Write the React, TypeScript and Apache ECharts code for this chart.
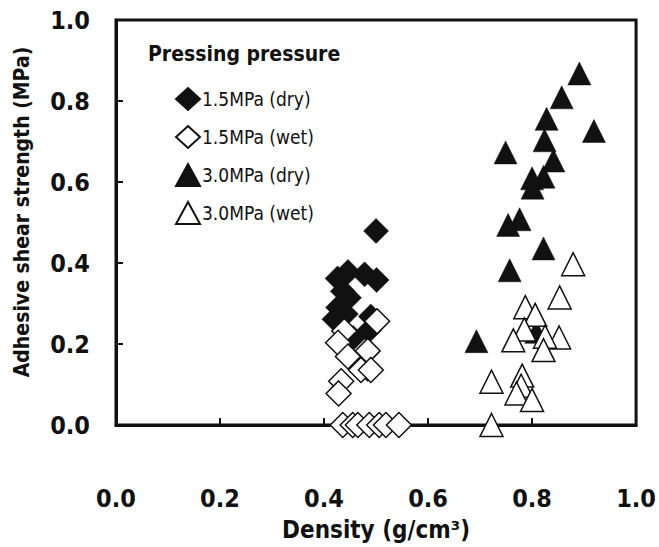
import React, { useEffect, useRef } from "react";
import * as echarts from "echarts";

const seriesNames = ["1.5MPa (dry)", "1.5MPa (wet)", "3.0MPa (dry)", "3.0MPa (wet)"];

const dry15: number[][] = [
  [0.5, 0.479], [0.446, 0.378], [0.478, 0.372], [0.501, 0.358], [0.426, 0.362],
  [0.436, 0.33], [0.448, 0.314], [0.427, 0.29], [0.442, 0.274], [0.42, 0.261],
  [0.49, 0.268], [0.486, 0.233], [0.456, 0.215], [0.484, 0.138],
];
const wet15: number[][] = [
  [0.502, 0.256], [0.439, 0.232], [0.427, 0.203], [0.446, 0.169], [0.484, 0.183],
  [0.471, 0.136], [0.49, 0.136], [0.433, 0.108], [0.428, 0.078],
  [0.436, 0], [0.455, 0], [0.465, 0], [0.487, 0], [0.506, 0], [0.519, 0], [0.544, 0],
];
const dry30: number[][] = [
  [0.891, 0.868], [0.857, 0.809], [0.828, 0.756], [0.919, 0.726], [0.824, 0.703],
  [0.749, 0.673], [0.841, 0.653], [0.822, 0.613], [0.8, 0.609], [0.801, 0.586],
  [0.776, 0.508], [0.754, 0.494], [0.822, 0.436], [0.757, 0.382], [0.693, 0.207],
  [0.808, 0.23],
];
const wet30: number[][] = [
  [0.879, 0.397], [0.853, 0.315], [0.787, 0.291], [0.806, 0.272], [0.785, 0.236],
  [0.852, 0.216], [0.764, 0.209], [0.825, 0.218], [0.822, 0.185], [0.722, 0.107],
  [0.781, 0.122], [0.779, 0.097], [0.77, 0.078], [0.8, 0.062], [0.722, 0.0],
];
const yTitle = "Adhesive shear strength (MPa)";
const xTitle = "Density (g/cm³)";

const FONT = "'DejaVu Sans Condensed', 'Liberation Sans Narrow', 'Liberation Sans', sans-serif";
const INK = "#111111";

export default function App() {
  const ref = useRef<HTMLDivElement>(null);
  useEffect(() => {
    if (!ref.current) return;
    const chart = echarts.init(ref.current, undefined, { renderer: "svg" });
    const mk = (name: string, data: number[][], symbol: string, size: number, filled: boolean) => ({
      name,
      type: "scatter",
      data,
      symbol,
      symbolSize: size,
      itemStyle: filled
        ? { color: INK, borderColor: INK, borderWidth: 0.5, opacity: 1 }
        : { color: "#ffffff", borderColor: INK, borderWidth: 1.5, opacity: 1 },
      emphasis: { disabled: true },
    });
    chart.setOption({
      animation: false,
      textStyle: { fontFamily: FONT },
      grid: {
        left: 116, top: 20, width: 525, height: 413,
        show: true, borderColor: INK, borderWidth: 3, backgroundColor: "transparent",
      },
      title: {
        text: "Pressing pressure",
        left: 143, top: 38,
        textStyle: { fontFamily: FONT, fontSize: 21, fontWeight: "bold", color: INK },
      },
      legend: {
        orient: "vertical",
        left: 170, top: 82,
        itemWidth: 24, itemHeight: 22, itemGap: 14,
        data: seriesNames,
        textStyle: { fontFamily: FONT, fontSize: 19, color: INK, padding: [0, 0, 0, -3] },
        selectedMode: false,
      },
      graphic: [
        {
          type: "text",
          x: 22,
          y: 212,
          rotation: Math.PI / 2,
          style: {
            text: yTitle,
            fontFamily: FONT,
            fontSize: 21,
            fontWeight: "bold",
            fill: INK,
            align: "center",
            verticalAlign: "middle",
          },
        },
      ],
      xAxis: {
        type: "value",
        min: 0, max: 1, interval: 0.2,
        name: xTitle,
        nameLocation: "middle",
        nameGap: 93,
        nameTextStyle: { fontFamily: FONT, fontSize: 24, fontWeight: "bold", color: INK },
        axisLine: { show: true, lineStyle: { color: INK, width: 3 } },
        axisTick: { show: true, inside: true, length: 7, lineStyle: { color: INK, width: 2 } },
        axisLabel: {
          margin: 61, fontFamily: FONT, fontSize: 25, fontWeight: "bold", color: INK,
          formatter: (v: number) => v.toFixed(1),
        },
        splitLine: { show: false },
      },
      yAxis: {
        type: "value",
        min: 0, max: 1, interval: 0.2,
        axisLine: { show: true, lineStyle: { color: INK, width: 3 } },
        axisTick: { show: true, inside: true, length: 7, lineStyle: { color: INK, width: 2 } },
        axisLabel: {
          margin: 26, fontFamily: FONT, fontSize: 25, fontWeight: "bold", color: INK,
          formatter: (v: number) => v.toFixed(1),
        },
        splitLine: { show: false },
      },
      series: [
        mk(seriesNames[0], dry15, "diamond", 25, true),
        mk(seriesNames[2], dry30, "triangle", 23, true),
        mk(seriesNames[1], wet15, "diamond", 25, false),
        mk(seriesNames[3], wet30, "triangle", 23, false),
      ],
    });
    return () => chart.dispose();
  }, []);
  return (
    <div
      ref={ref}
      style={{ position: "fixed", left: 0, top: 0, width: 659, height: 547, background: "#fff" }}
    />
  );
}
